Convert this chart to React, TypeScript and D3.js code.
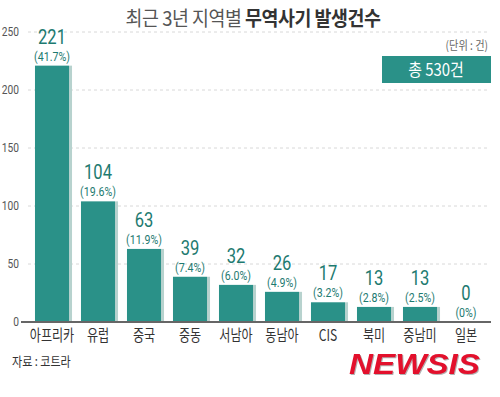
import * as React from "react";
import { scaleBand, scaleLinear } from "d3";

const categories = ["아프리카", "유럽", "중국", "중동", "서남아", "동남아", "CIS", "북미", "중남미", "일본"];
const counts = [221, 104, 63, 39, 32, 26, 17, 13, 13, 0];
const shares = ["41.7%", "19.6%", "11.9%", "7.4%", "6.0%", "4.9%", "3.2%", "2.8%", "2.5%", "0%"];
const yTicks = [0, 50, 100, 150, 200, 250];

const W = 500;
const H = 397;
const FONT = "'Noto Sans CJK KR', 'Noto Sans', sans-serif";
const NUM_FONT = "Roboto, 'Noto Sans', sans-serif";

// condensed text: the reference uses a narrow typeface
function CText({ x, y, sx = 1, children, ...rest }: any) {
    return (
        <text transform={`translate(${x},${y}) scale(${sx},1)`} {...rest}>
            {children}
        </text>
    );
}

export default function App() {
    const x = scaleBand<string>()
        .domain(categories)
        .range([29, 489])
        .paddingInner(0.26)
        .paddingOuter(0.13);
    const y = scaleLinear().domain([0, 250]).range([322, 32]);
    const bw = x.bandwidth();

    return (
        <svg
            width={W}
            height={H}
            style={{ position: "absolute", left: 0, top: 0, background: "#fff" }}
            fontFamily={FONT}
        >
            {/* title */}
            <CText x={253} y={26} sx={0.92} textAnchor="middle" fontSize={20} fill="#555" letterSpacing={-0.5}>
                최근 3년 지역별 <tspan fontWeight="bold" fill="#333">무역사기 발생건수</tspan>
            </CText>

            {/* grid + y ticks */}
            {yTicks.map(t => (
                <g key={t}>
                    {t > 0 && (
                        <line x1={28} x2={490} y1={y(t)} y2={y(t)} stroke="#d8d8d8" strokeDasharray="3,3" />
                    )}
                    <CText x={19} y={y(t) + 4} sx={0.85} textAnchor="end" fontSize={12} fill="#555" fontFamily={NUM_FONT}>
                        {t}
                    </CText>
                </g>
            ))}

            {/* unit + total */}
            <CText x={488} y={50} sx={0.85} textAnchor="end" fontSize={12} fill="#666">(단위 : 건)</CText>
            <rect x={382} y={56} width={109} height={27} fill="#2a9188" />
            <CText x={436} y={76} sx={0.88} textAnchor="middle" fontSize={17} fill="#fff">총 530건</CText>

            {/* bars */}
            {categories.map((c, i) => {
                const x0 = x(c) as number;
                const cx = x0 + bw / 2;
                const top = y(counts[i]);
                return (
                    <g key={c}>
                        <rect x={x0 + bw} y={top} width={3} height={322 - top} fill="#b7d2ce" />
                        <rect x={x0} y={top} width={bw} height={322 - top} fill="#2a9188" />
                        <CText x={cx} y={top - 22} sx={0.85} textAnchor="middle" fontSize={19.5} fill="#1d7a70" fontFamily={NUM_FONT}>
                            {counts[i]}
                        </CText>
                        <CText x={cx} y={top - 5} sx={0.85} textAnchor="middle" fontSize={12.5} fill="#1d7a70" fontFamily={NUM_FONT}>
                            ({shares[i]})
                        </CText>
                        <CText x={cx} y={341} sx={0.78} textAnchor="middle" fontSize={15.5} fill="#333">
                            {c}
                        </CText>
                    </g>
                );
            })}

            {/* axis */}
            <line x1={21} x2={491} y1={322} y2={322} stroke="#666" strokeWidth={2} />

            {/* source + logo */}
            <CText x={12} y={366} sx={0.85} fontSize={13} fill="#333">자료 : 코트라</CText>
            <text
                x={349}
                y={374}
                fontSize={29}
                fontWeight={900}
                fontStyle="italic"
                fill="#e3102c"
                fontFamily="'Liberation Sans', Arial, sans-serif"
                textLength={131}
                lengthAdjust="spacingAndGlyphs"
                style={{ filter: "drop-shadow(1px 1px 0.5px rgba(0,0,0,0.3))" }}
            >
                NEWSIS
            </text>
        </svg>
    );
}
